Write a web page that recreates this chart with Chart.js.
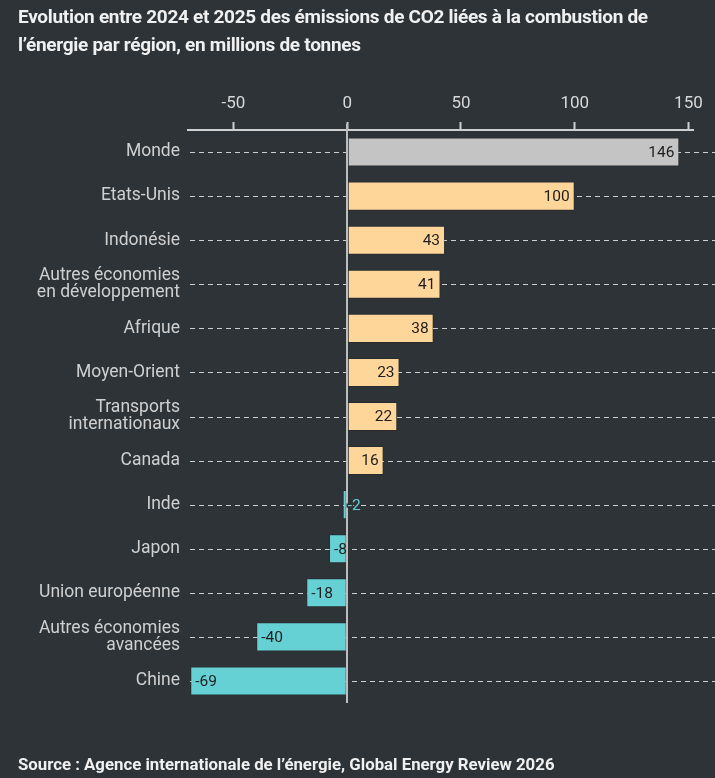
<!DOCTYPE html>
<html>
<head>
<meta charset="utf-8">
<script src="https://cdn.jsdelivr.net/npm/chart.js@4"></script>
<style>
  body { margin: 0; background: #2e3337; width: 715px; height: 778px; overflow: hidden; position: relative; }
  #title { position: absolute; left: 18px; top: 3px; color: #f0f0f0; white-space: nowrap;
           font: bold 19px Roboto, sans-serif; line-height: 28px; letter-spacing: -0.3px; }
  #source { position: absolute; left: 18px; top: 754px; color: #f0f0f0; white-space: nowrap;
            font: bold 16.8px Roboto, sans-serif; }
  #wrap { position: absolute; left: 0; top: 0; width: 715px; height: 778px; }
</style>
</head>
<body>
<div id="wrap"><canvas id="barChart"></canvas></div>
<div id="title">Evolution entre 2024 et 2025 des émissions de CO2 liées à la combustion de<br>l’énergie par région, en millions de tonnes</div>
<div id="source">Source : Agence internationale de l’énergie, Global Energy Review 2026</div>
<script>
var regions = [
    'Monde', 'Etats-Unis', 'Indonésie', ['Autres économies', 'en développement'], 'Afrique',
    'Moyen-Orient', ['Transports', 'internationaux'], 'Canada', 'Inde', 'Japon',
    'Union européenne', ['Autres économies', 'avancées'], 'Chine'
];
var changes = [146, 100, 43, 41, 38, 23, 22, 16, -2, -8, -18, -40, -69];
var xTicks = [-50, 0, 50, 100, 150];

var labelFont = 'Roboto, sans-serif';

// one colour per bar: world in grey, rises in peach, falls in teal
var barColors = changes.map(function (v, i) {
    if (i === 0) return '#c4c4c4';
    return v >= 0 ? '#ffd699' : '#66d1d4';
});

// dashed guide lines behind the bars, zero line and value labels on top
var extras = {
    id: 'extras',
    beforeDatasetsDraw: function (chart) {
        var ctx = chart.ctx, y = chart.scales.y, area = chart.chartArea;
        ctx.save();
        ctx.strokeStyle = '#cfcfcf';
        ctx.lineWidth = 1;
        ctx.setLineDash([5, 4]);
        regions.forEach(function (r, i) {
            var py = Math.round(y.getPixelForValue(i)) + 0.5;
            ctx.beginPath();
            ctx.moveTo(area.left + 2, py);
            ctx.lineTo(chart.width, py);
            ctx.stroke();
        });
        ctx.restore();
    },
    afterDatasetsDraw: function (chart) {
        var ctx = chart.ctx, x = chart.scales.x, area = chart.chartArea;
        var meta = chart.getDatasetMeta(0);
        ctx.save();
        var zx = Math.round(x.getPixelForValue(0));
        ctx.strokeStyle = '#bdbdbd';
        ctx.lineWidth = 2;
        ctx.beginPath();
        ctx.moveTo(zx, area.top - 6);
        ctx.lineTo(zx, area.bottom);
        ctx.stroke();

        ctx.font = '15.5px ' + labelFont;
        ctx.textBaseline = 'middle';
        meta.data.forEach(function (bar, i) {
            var v = changes[i];
            var txt = String(v);
            var w = ctx.measureText(txt).width;
            var width = Math.abs(bar.x - bar.base);
            if (v >= 0) {
                ctx.textAlign = 'right';
                ctx.fillStyle = '#1e1e1e';
                ctx.fillText(txt, bar.x - 5, bar.y + 1);
            } else {
                ctx.textAlign = 'left';
                if (w > width) {
                    ctx.lineWidth = 3;
                    ctx.strokeStyle = '#2e3337';
                    ctx.strokeText(txt, bar.x + 5, bar.y + 1);
                    ctx.fillStyle = barColors[i];
                } else {
                    ctx.fillStyle = '#1e1e1e';
                }
                ctx.fillText(txt, bar.x + 5, bar.y + 1);
            }
        });
        ctx.restore();
    }
};

var ctx = document.getElementById('barChart').getContext('2d');

var barChart = new Chart(ctx, {
    type: 'bar',
    data: {
        labels: regions,
        datasets: [{
            data: changes,
            backgroundColor: barColors,
            borderColor: 'rgba(0,0,0,0.15)',
            borderWidth: 1,
            borderSkipped: false,
            categoryPercentage: 1,
            barPercentage: 0.66
        }]
    },
    options: {
        indexAxis: 'y',
        responsive: true,
        maintainAspectRatio: false,
        animation: false,
        layout: { padding: { top: 88, left: 0, right: 22, bottom: 75 } },
        plugins: {
            legend: { display: false },
            tooltip: { enabled: false }
        },
        scales: {
            x: {
                position: 'top',
                min: -70,
                max: 152,
                afterBuildTicks: function (scale) {
                    scale.ticks = xTicks.map(function (v) { return { value: v }; });
                },
                ticks: {
                    color: '#d8d8d8',
                    font: { family: labelFont, size: 17 },
                    padding: 8
                },
                grid: {
                    drawOnChartArea: false,
                    tickLength: 8,
                    tickColor: '#cfcfcf',
                    tickWidth: 2
                },
                border: { color: '#cfcfcf', width: 2 },
                afterFit: function (scale) { scale.height = 42; }
            },
            y: {
                ticks: {
                    color: '#d0d0d0',
                    font: { family: labelFont, size: 17.5, lineHeight: 0.98 },
                    padding: 0
                },
                grid: { display: false },
                border: { display: false },
                afterFit: function (scale) { scale.width = 188; }
            }
        }
    },
    plugins: [extras]
});
</script>
</body>
</html>
